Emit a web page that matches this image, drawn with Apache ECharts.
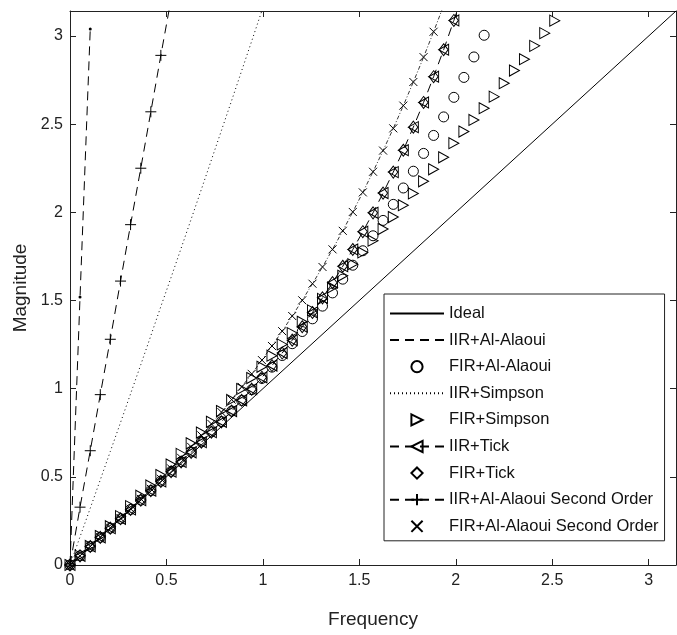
<!DOCTYPE html>
<html>
<head>
<meta charset="utf-8">
<script src="https://cdn.jsdelivr.net/npm/echarts@6/dist/echarts.min.js"></script>
<style>
html,body{margin:0;padding:0;background:#fff;}
#chart{width:677px;height:635px;}
</style>
</head>
<body>
<div id="chart"></div>
<script>
// Frequency grid (rad/sample)
const freq = [0, 0.052, 0.105, 0.157, 0.209, 0.262, 0.314, 0.367, 0.419, 0.471, 0.524, 0.576, 0.628, 0.681, 0.733, 0.785, 0.838, 0.890, 0.942, 0.995, 1.047, 1.100, 1.152, 1.204, 1.257, 1.309, 1.361, 1.414, 1.466, 1.518, 1.571, 1.623, 1.676, 1.728, 1.780, 1.833, 1.885, 1.937, 1.990, 2.042, 2.094, 2.147, 2.199, 2.251, 2.304, 2.356, 2.409, 2.461, 2.513, 2.566];

const idealFreq = [0, 3.1416];
const idealMag = [0, 3.1416];

const iirAlAlaoui = [0, 1.52, 3.04];
const firAlAlaoui = [0, 0.052, 0.105, 0.157, 0.209, 0.262, 0.315, 0.368, 0.422, 0.476, 0.531, 0.586, 0.641, 0.698, 0.755, 0.813, 0.873, 0.933, 0.994, 1.058, 1.122, 1.188, 1.255, 1.324, 1.396, 1.468, 1.543, 1.621, 1.700, 1.782, 1.867, 1.954, 2.045, 2.138, 2.233, 2.334, 2.436, 2.541, 2.652, 2.765, 2.881, 3.004, 3.17];
const iirSimpson = [0, 0.160, 0.322, 0.483, 0.644, 0.808, 0.971, 1.136, 1.300, 1.466, 1.631, 1.796, 1.961, 2.130, 2.297, 2.464, 2.634, 2.803, 2.971, 3.144, 3.313];
const firSimpson = [0, 0.053, 0.108, 0.164, 0.220, 0.277, 0.334, 0.393, 0.451, 0.510, 0.570, 0.630, 0.690, 0.751, 0.812, 0.873, 0.936, 0.998, 1.060, 1.124, 1.187, 1.251, 1.315, 1.379, 1.444, 1.509, 1.574, 1.640, 1.706, 1.772, 1.839, 1.905, 1.973, 2.040, 2.107, 2.176, 2.244, 2.312, 2.392, 2.458, 2.524, 2.590, 2.656, 2.732, 2.804, 2.868, 2.944, 3.016, 3.087, 3.153];
const iirTick = [0, 0.052, 0.105, 0.157, 0.209, 0.262, 0.315, 0.368, 0.421, 0.474, 0.529, 0.584, 0.639, 0.696, 0.753, 0.812, 0.873, 0.934, 0.997, 1.064, 1.131, 1.202, 1.275, 1.351, 1.432, 1.515, 1.601, 1.694, 1.789, 1.890, 1.997, 2.109, 2.228, 2.352, 2.483, 2.623, 2.769, 2.922, 3.088, 3.259];
const firTick = [0, 0.052, 0.105, 0.157, 0.209, 0.262, 0.315, 0.368, 0.421, 0.474, 0.529, 0.584, 0.639, 0.696, 0.753, 0.812, 0.873, 0.934, 0.997, 1.064, 1.131, 1.202, 1.275, 1.351, 1.432, 1.515, 1.601, 1.694, 1.789, 1.890, 1.997, 2.109, 2.228, 2.352, 2.483, 2.623, 2.769, 2.922, 3.088, 3.259];
const iirAlAlaoui2 = [0, 0.328, 0.648, 0.966, 1.28, 1.61, 1.93, 2.25, 2.57, 2.89, 3.21];
const firAlAlaoui2 = [0, 0.052, 0.105, 0.158, 0.211, 0.265, 0.319, 0.375, 0.432, 0.489, 0.548, 0.608, 0.670, 0.735, 0.800, 0.867, 0.938, 1.010, 1.084, 1.162, 1.242, 1.326, 1.412, 1.501, 1.595, 1.690, 1.790, 1.895, 2.002, 2.113, 2.230, 2.350, 2.476, 2.605, 2.739, 2.880, 3.024, 3.173];

const seriesNames = ['Ideal', 'IIR+Al-Alaoui', 'FIR+Al-Alaoui', 'IIR+Simpson', 'FIR+Simpson', 'IIR+Tick', 'FIR+Tick', 'IIR+Al-Alaoui Second Order', 'FIR+Al-Alaoui Second Order'];
const xTicks = [0, 0.5, 1, 1.5, 2, 2.5, 3];

function pairs(xs, ys) { return ys.map((v, i) => [xs[i], v]); }

const FONT = '"Liberation Sans", Arial, sans-serif';
const K = '#000';
const hollow = { color: 'rgba(0,0,0,0)', borderColor: K, borderWidth: 1 };
const noLine = { color: 'rgba(0,0,0,0)', width: 0, opacity: 0 };
const SYM_RTRI = 'path://M0,0L10,5L0,10Z';
const SYM_LTRI = 'path://M10,0L0,5L10,10Z';
const SYM_PLUS = 'path://M5,0L5,10M0,5L10,5';
const SYM_CROSS = 'path://M0,0L10,10M10,0L0,10';

const base = { type: 'line', showAllSymbol: true, clip: true, animation: false, z: 2 };

const series = [
  Object.assign({}, base, { name: seriesNames[0], data: pairs(idealFreq, idealMag), symbol: 'none',
    lineStyle: { color: K, width: 1, type: 'solid' }, itemStyle: { color: K } }),
  Object.assign({}, base, { name: seriesNames[1], data: pairs(freq, iirAlAlaoui), symbol: 'circle', symbolSize: 3,
    lineStyle: { color: K, width: 1, type: [9, 6] }, itemStyle: { color: K } }),
  Object.assign({}, base, { name: seriesNames[2], data: pairs(freq, firAlAlaoui), symbol: 'circle', symbolSize: 10,
    lineStyle: noLine, itemStyle: hollow }),
  Object.assign({}, base, { name: seriesNames[3], data: pairs(freq, iirSimpson), symbol: 'none',
    lineStyle: { color: K, width: 1, type: [1, 3] }, itemStyle: { color: K } }),
  Object.assign({}, base, { name: seriesNames[4], data: pairs(freq, firSimpson), symbol: SYM_RTRI, symbolSize: [10, 11],
    lineStyle: noLine, itemStyle: hollow }),
  Object.assign({}, base, { name: seriesNames[5], data: pairs(freq, iirTick), symbol: SYM_LTRI, symbolSize: [10, 11],
    lineStyle: { color: K, width: 1, type: [9, 6] }, itemStyle: hollow }),
  Object.assign({}, base, { name: seriesNames[6], data: pairs(freq, firTick), symbol: 'diamond', symbolSize: [9, 12],
    lineStyle: noLine, itemStyle: hollow }),
  Object.assign({}, base, { name: seriesNames[7], data: pairs(freq, iirAlAlaoui2), symbol: SYM_PLUS, symbolSize: 11,
    lineStyle: { color: K, width: 1, type: [9, 6] }, itemStyle: hollow }),
  Object.assign({}, base, { name: seriesNames[8], data: pairs(freq, firAlAlaoui2), symbol: SYM_CROSS, symbolSize: 8,
    lineStyle: { color: K, width: 0.8, type: [4, 2, 1, 2] }, itemStyle: hollow })
];

const legendData = seriesNames.map((n, i) => {
  const item = { name: n };
  if (i === 0 || i === 1 || i === 3) item.itemStyle = { opacity: 0 };
  if (i === 8) item.lineStyle = { opacity: 0, width: 0, color: 'rgba(0,0,0,0)' };
  return item;
});

const axisCommon = {
  type: 'value', min: 0, max: 3.1416, interval: 0.5,
  axisLine: { show: true, onZero: false, lineStyle: { color: '#222', width: 1 } },
  axisTick: { show: true, inside: true, length: 6, lineStyle: { color: '#222' } },
  splitLine: { show: false }
};
function tickFmt(v) { return xTicks.some(t => Math.abs(t - v) < 1e-6) ? String(v) : ''; }

const option = {
  backgroundColor: '#fff',
  animation: false,
  grid: { left: 70, right: 1, top: 11, bottom: 70, containLabel: false },
  xAxis: [
    Object.assign({}, axisCommon, {
      position: 'bottom', name: 'Frequency', nameLocation: 'middle', nameGap: 45,
      nameTextStyle: { fontFamily: FONT, fontSize: 19, color: '#222' },
      axisLabel: { show: true, margin: 8, fontFamily: FONT, fontSize: 16, color: '#222', formatter: tickFmt, showMaxLabel: false }
    }),
    Object.assign({}, axisCommon, { position: 'top', axisLabel: { show: false } })
  ],
  yAxis: [
    Object.assign({}, axisCommon, {
      position: 'left', name: 'Magnitude', nameLocation: 'middle', nameGap: 36, nameRotate: 90,
      nameTextStyle: { fontFamily: FONT, fontSize: 19, color: '#222' },
      axisLabel: { show: true, margin: 7, fontFamily: FONT, fontSize: 16, color: '#222', formatter: tickFmt, showMaxLabel: false }
    }),
    Object.assign({}, axisCommon, { position: 'right', axisLabel: { show: false } })
  ],
  legend: {
    show: true, orient: 'vertical', left: 384, top: 294,
    data: legendData, selectedMode: false,
    itemWidth: 54, itemHeight: 14, itemGap: 9.6,
    padding: [11, 6, 6, 5],
    backgroundColor: '#fff', borderColor: '#222', borderWidth: 1,
    textStyle: { fontFamily: FONT, fontSize: 16.5, color: '#111' }
  },
  series: series
};

const chart = echarts.init(document.getElementById('chart'), null, { renderer: 'canvas' });
chart.setOption(option);
</script>
</body>
</html>
